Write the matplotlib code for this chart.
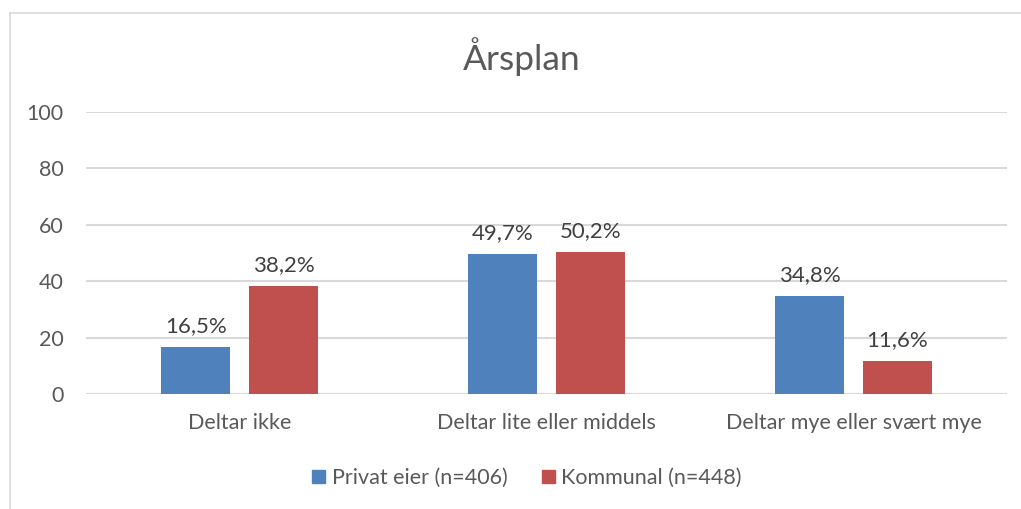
import matplotlib
matplotlib.use("Agg")
import matplotlib.pyplot as plt
import numpy as np
from matplotlib.lines import Line2D
from matplotlib.patches import Patch

categories = ["Deltar ikke", "Deltar lite eller middels", "Deltar mye eller svært mye"]
series_names = ["Privat eier (n=406)", "Kommunal (n=448)"]
privat = [16.5, 49.7, 34.8]
kommunal = [38.2, 50.2, 11.6]
yticks = [0, 20, 40, 60, 80, 100]
title = "Årsplan"

colors = ["#4F81BD", "#C0504D"]
txt = "#595959"
plt.rcParams['font.family'] = ['Lato', 'DejaVu Sans']

fig = plt.figure(figsize=(10.21, 5.09), dpi=100)
ax = fig.add_axes([86/1021, 1-394/509, (1007-86)/1021, (394-112)/509])

x = np.arange(len(categories))
w = 0.225
off = 0.143
for vals, c, name, o in [(privat, colors[0], series_names[0], -off), (kommunal, colors[1], series_names[1], off)]:
    bars = ax.bar(x + o, vals, w, color=c, label=name, zorder=3)
    for b, v in zip(bars, vals):
        ax.annotate(f"{v:.1f}%".replace(".", ","), (b.get_x() + b.get_width()/2, v),
                    xytext=(0, 8), textcoords="offset points", ha="center", va="bottom",
                    fontsize=16, color="#404040")

ax.set_xlim(-0.5, 2.5)
ax.set_ylim(0, 100)
ax.set_yticks(yticks)
ax.set_xticks(x)
ax.set_xticklabels(categories)
ax.grid(axis="y", color="#D9D9D9", linewidth=1.5, zorder=0)
for s in ax.spines.values():
    s.set_visible(False)
ax.tick_params(axis="both", length=0, labelsize=15.5, labelcolor=txt)
ax.tick_params(axis="y", pad=16)
ax.tick_params(axis="x", pad=14)

fig.text(522/1021, 1-57/509, title, ha="center", va="center", fontsize=25.5, color=txt)

handles = [Patch(color=colors[0]), Patch(color=colors[1])]
leg = fig.legend(handles, series_names, loc="center", bbox_to_anchor=(527/1021, 1-478/509),
                 ncol=2, frameon=False, fontsize=15.5, handlelength=0.6, handleheight=0.6,
                 handletextpad=0.3, columnspacing=1.6)
for t in leg.get_texts():
    t.set_color(txt)

# outer frame (left and top)
fig.add_artist(Line2D([10/1021, 10/1021], [0, 1-13/509], transform=fig.transFigure, color="#D9D9D9", lw=1.2))
fig.add_artist(Line2D([10/1021, 1], [1-13/509, 1-13/509], transform=fig.transFigure, color="#D9D9D9", lw=1.2))

fig.savefig("out.png", dpi=100)
